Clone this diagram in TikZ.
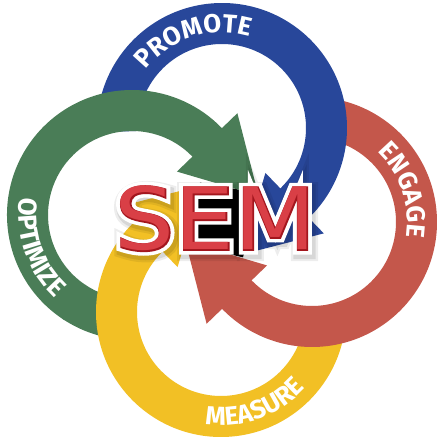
\documentclass[tikz,border=0pt]{standalone}
\usepackage{fontspec}
\usetikzlibrary{calc,decorations.text}
\newfontfamily\labelfont{Fira Sans}
\newfontfamily\semfont{DejaVu Sans}
\newfontfamily\semwhite{DejaVu Sans}[FakeBold=10.5]
\newfontfamily\semdarkf{DejaVu Sans}[FakeBold=2.2]
\newfontfamily\semshA{DejaVu Sans}[FakeBold=19]
\newfontfamily\semshB{DejaVu Sans}[FakeBold=14]
\definecolor{cblue}{HTML}{28479A}
\definecolor{cred}{HTML}{C4574B}
\definecolor{cyellow}{HTML}{F2C025}
\definecolor{cgreen}{HTML}{4A7D57}
\definecolor{semred}{HTML}{D93F46}
\definecolor{semdark}{HTML}{A3161E}
\def\Ri{84}\def\Ro{125}\def\Rm{104.5}\def\Rbo{146.5}\def\Rbi{62.5}\def\Lh{74}
\newcommand\ringseg[4]{\fill[#4] ($(#1)+(#2:\Ro)$) arc[start angle=#2,end angle=#3,radius=\Ro] -- ($(#1)+(#3:\Ri)$) arc[start angle=#3,end angle=#2,radius=\Ri] -- cycle;}
\newcommand\ringhead[4]{\fill[#4] ($(#1)+(#2:\Ro)$) arc[start angle=#2,end angle=#3,radius=\Ro]
 -- ($(#1)+(#3:\Rbo)$) -- ($(#1)+(#3:\Rm)+(#3-90:\Lh)$) -- ($(#1)+(#3:\Rbi)$)
 -- ($(#1)+(#3:\Ri)$) arc[start angle=#3,end angle=#2,radius=\Ri] -- cycle;}
\newcommand\semword{\scalebox{1.1}[1]{SEM}}
\tikzset{
 lbl/.style={decorate,decoration={text along path,text align=center,text color=white,
   text={|\labelfont\bfseries\fontsize{26}{26}\selectfont|#1}}},
 semtxt/.style={inner sep=0pt,anchor=base,font=\fontsize{86}{86}\selectfont}
}
\begin{document}
\begin{tikzpicture}[x=1pt,y=1pt]
\useasboundingbox (0,0) rectangle (441,442);
\fill[white] (0,0) rectangle (441,442);
\coordinate (B) at (222,314);
\coordinate (R) at (312,220);
\coordinate (Y) at (221,130);
\coordinate (G) at (132,227);
\coordinate (O) at (221.5,222);
\coordinate (tG) at ($(G)+(44:\Rm)+(-46:\Lh)$);
\coordinate (tB) at ($(B)+(-46:\Rm)+(-136:\Lh)$);
\coordinate (tR) at ($(R)+(224:\Rm)+(134:\Lh)$);
\coordinate (tY) at ($(Y)+(134:\Rm)+(44:\Lh)$);
% dark centre
\fill[black] ($(O)!1.08!(tY)$) -- ($(O)!1.08!(tG)$) -- ($(O)!1.08!(tB)$) -- ($(O)!1.08!(tR)$) -- cycle;
% rings (cyclic overlap: green split in two)
\ringseg{G}{272}{236}{cgreen}
\ringhead{Y}{2}{-226}{cyellow}
\ringhead{R}{92}{-136}{cred}
\ringhead{B}{182}{-46}{cblue}
\ringhead{G}{237}{44}{cgreen}
% labels
\path[lbl=PROMOTE] ($(B)+(168:95.5)$) arc[start angle=168,end angle=48,radius=95.5];
\path[lbl=ENGAGE] ($(R)+(79:95.5)$) arc[start angle=79,end angle=-41,radius=95.5];
\path[lbl=MEASURE] ($(Y)+(230:113.5)$) arc[start angle=230,end angle=350,radius=113.5];
\path[lbl=OPTIMIZE] ($(G)+(139:113.5)$) arc[start angle=139,end angle=259,radius=113.5];
% SEM
\coordinate (S) at (215.5,192);
\node[semtxt,text=black,opacity=0.07] (shA) at ($(S)+(2,-3)$) {\semshA\semword};
\node[semtxt,text=black,opacity=0.09] (shB) at ($(S)+(2,-3)$) {\semshB\semword};
\node[semtxt,text=white] (sw) at (S) {\semwhite\semword};
\node[semtxt,text=semdark] (sd) at (S) {\semdarkf\semword};
\node[semtxt,text=semred] (sem) at (S) {\semfont\semword};
\end{tikzpicture}
\end{document}
